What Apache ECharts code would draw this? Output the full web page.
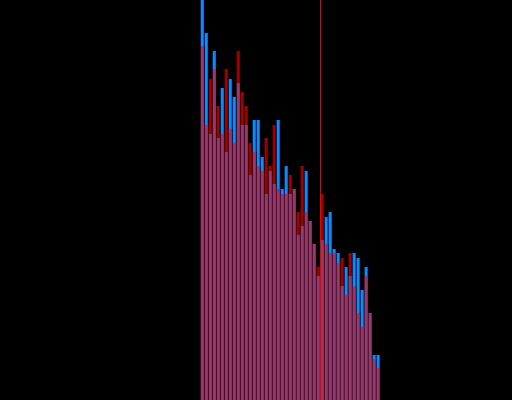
<!DOCTYPE html>
<html>
<head>
<meta charset="utf-8">
<script src="https://cdn.jsdelivr.net/npm/echarts@6/dist/echarts.min.js"></script>
<style>
html,body{margin:0;padding:0;background:#000;}
#chart{width:512px;height:400px;}
</style>
</head>
<body>
<div id="chart"></div>
<script>
// histogram bins: 128 bins across the width, data occupies bins 50..94
var binCount = 128;
var firstBin = 50;
var blueCounts = [400,367,266,349,262,312,248,321,303,317,275,275,225,280,280,243,206,229,216,280,211,234,206,211,165,174,229,179,156,124,160,183,188,151,147,114,133,124,147,142,110,133,87,45,45];
var redCounts  = [354,275,321,331,294,266,331,271,257,349,308,294,257,248,234,229,262,234,275,211,206,206,225,211,188,234,188,179,156,133,206,156,147,147,137,142,105,147,114,87,73,124,87,41,32];
var thresholdBin = 80;
var yMax = 400;

var cats = [];
for (var i = 0; i < binCount; i++) cats.push(String(i));

function toPairs(arr){ return arr.map(function(v,i){ return [i + firstBin, v]; }); }

var chart = echarts.init(document.getElementById('chart'), null, {renderer:'canvas'});
chart.setOption({
  backgroundColor: '#000000',
  animation: false,
  grid: {left: 0.5, right: -0.5, top: 0, bottom: 0, containLabel: false},
  xAxis: [
    {type: 'category', data: cats, show: false, boundaryGap: true},
    {type: 'value', min: 0, max: binCount, show: false}
  ],
  yAxis: {type: 'value', min: 0, max: yMax, show: false},
  series: [
    {type: 'bar', xAxisIndex: 0, data: toPairs(blueCounts), barWidth: 3, barGap: '-100%',
     itemStyle: {color: '#0a8cff'}, z: 1},
    {type: 'bar', xAxisIndex: 0, data: toPairs(redCounts), barWidth: 3, barGap: '-100%',
     itemStyle: {color: 'rgba(255,0,0,0.63)'}, z: 2},
    {type: 'scatter', xAxisIndex: 1, data: [], z: 5,
     markLine: {silent: true, symbol: ['none','none'], label: {show: false},
       lineStyle: {color: '#ee0000', width: 1, type: 'solid'},
       data: [{xAxis: thresholdBin}]}}
  ]
});
</script>
</body>
</html>
